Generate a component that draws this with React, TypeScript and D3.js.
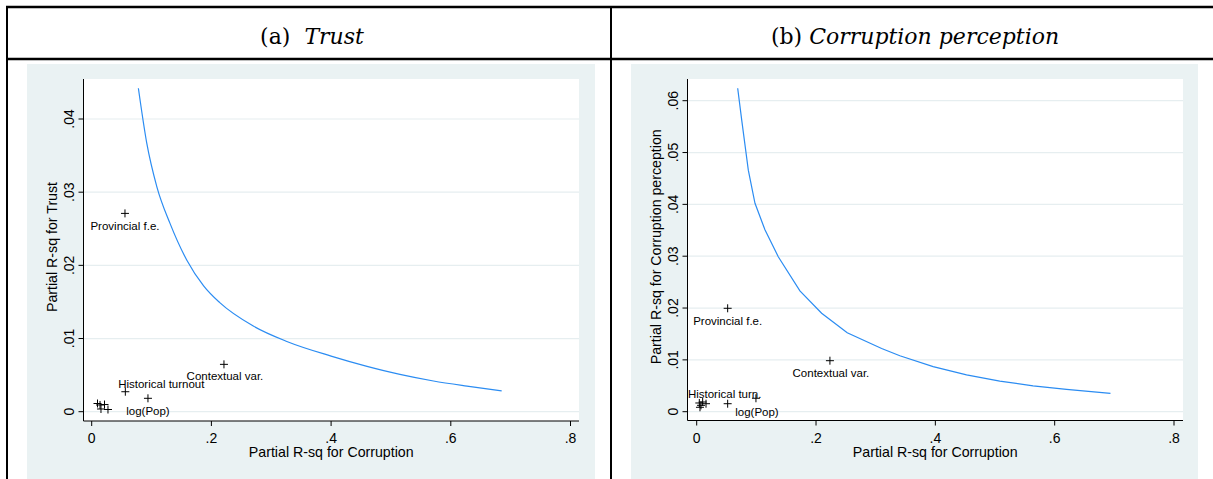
import React from "react";
import * as d3 from "d3";

// ---------- DATA ----------
const xTickValues = [0, 0.2, 0.4, 0.6, 0.8];
const xTickLabels = ["0", ".2", ".4", ".6", ".8"];

const yTickValuesA = [0, 0.01, 0.02, 0.03, 0.04];
const yTickLabelsA = ["0", ".01", ".02", ".03", ".04"];
const yTickValuesB = [0, 0.01, 0.02, 0.03, 0.04, 0.05, 0.06];
const yTickLabelsB = ["0", ".01", ".02", ".03", ".04", ".05", ".06"];

// Bound contour (panel a: Trust)
const curveAx = [0.078, 0.092, 0.109, 0.131, 0.159, 0.187, 0.214, 0.27, 0.326, 0.4, 0.46, 0.515, 0.571, 0.627, 0.685];
const curveAy = [0.0442, 0.0367, 0.0307, 0.0257, 0.0207, 0.0172, 0.0149, 0.0117, 0.0096, 0.0076, 0.0062, 0.0051, 0.0042, 0.0035, 0.00285];

// Bound contour (panel b: Corruption perception)
const curveBx = [0.0687, 0.0754, 0.0865, 0.0977, 0.1144, 0.1367, 0.173, 0.2094, 0.2523, 0.31, 0.3405, 0.3963, 0.4523, 0.508, 0.5638, 0.6198, 0.6935];
const curveBy = [0.0624, 0.0563, 0.0466, 0.0402, 0.0351, 0.0299, 0.0233, 0.019, 0.01524, 0.0122, 0.0108, 0.0087, 0.0071, 0.0059, 0.005, 0.0043, 0.00355];

// Benchmark covariates (panel a)
const pointsAx = [0.0556, 0.221, 0.0562, 0.094, 0.0097, 0.0139, 0.0155, 0.0214, 0.0272];
const pointsAy = [0.0271, 0.00647, 0.00273, 0.00183, 0.00112, 0.00092, 0.00037, 0.00098, 0.0003];
const pointsAlabels = ["Provincial f.e.", "Contextual var.", "Historical turnout", "log(Pop)", "", "", "", "", ""];

// Benchmark covariates (panel b)
const pointsBx = [0.0519, 0.2233, 0.0519, 0.0993, 0.0044, 0.01, 0.0156, 0.0072, 0.0055];
const pointsBy = [0.01995, 0.00984, 0.00154, 0.00259, 0.00168, 0.00187, 0.00154, 0.00123, 0.00085];
const pointsBlabels = ["Provincial f.e.", "Contextual var.", "Historical turn.", "log(Pop)", "", "", "", "", ""];

const titleA = { prefix: "(a)\u00a0 ", italic: "Trust" };
const titleB = { prefix: "(b) ", italic: "Corruption perception" };

// ---------- STYLE / LAYOUT ----------
const BG = "#eaf2f3";
const GRID = "#e6eef0";
const CURVE = "#2b8cf2";
const FONT = "'Liberation Sans', Arial, sans-serif";

// label offsets (px) relative to markers
const labelOffA = [[0, 17], [1, 16], [36, -4], [0, 17]];
const labelOffB = [[0, 17], [1, 16], [-3, -6], [1, 18]];

type PanelProps = {
  bgX: number; bgW: number;
  plotL: number; plotR: number; plotT: number; plotB: number;
  xr: [number, number];
  yr: [number, number];
  yMax: number;
  yTicks: number[]; yLabels: string[];
  cx: number[]; cy: number[];
  smooth: boolean;
  px: number[]; py: number[]; plabels: string[]; offs: number[][];
  yTitle: string;
};

function Panel(p: PanelProps) {
  const x = d3.scaleLinear().domain([0, 0.8]).range(p.xr);
  const y = d3.scaleLinear().domain([0, p.yMax]).range(p.yr);
  const line = d3
    .line<number>()
    .x((_, i) => x(p.cx[i]))
    .y((_, i) => y(p.cy[i]))
    .curve(p.smooth ? d3.curveMonotoneX : d3.curveLinear);
  const pathD = line(p.cx) || "";
  const midX = (p.plotL + p.plotR) / 2;
  const midY = (p.plotT + p.plotB) / 2;
  const ms = 4;
  return (
    <g>
      <rect x={p.bgX} y={64} width={p.bgW} height={420} fill={BG} />
      <rect x={p.plotL} y={p.plotT} width={p.plotR - p.plotL} height={p.plotB - p.plotT} fill="#fff" />
      {p.yTicks.map((t, i) => (
        <line key={"g" + i} x1={p.plotL} x2={p.plotR} y1={y(t)} y2={y(t)} stroke={GRID} strokeWidth={1.2} />
      ))}
      <line x1={p.plotL} x2={p.plotL} y1={p.plotT} y2={p.plotB} stroke="#000" strokeWidth={1} />
      <line x1={p.plotL} x2={p.plotR} y1={p.plotB} y2={p.plotB} stroke="#000" strokeWidth={1} />
      {xTickValues.map((t, i) => (
        <g key={"xt" + i}>
          <line x1={x(t)} x2={x(t)} y1={p.plotB} y2={p.plotB + 5} stroke="#000" strokeWidth={1} />
          <text x={x(t)} y={p.plotB + 22} textAnchor="middle" fontFamily={FONT} fontSize={14} fill="#000">
            {xTickLabels[i]}
          </text>
        </g>
      ))}
      {p.yTicks.map((t, i) => (
        <g key={"yt" + i}>
          <line x1={p.plotL - 5} x2={p.plotL} y1={y(t)} y2={y(t)} stroke="#000" strokeWidth={1} />
          <text
            transform={`translate(${p.plotL - 10},${y(t)}) rotate(-90)`}
            textAnchor="middle"
            fontFamily={FONT}
            fontSize={14}
            fill="#000"
          >
            {p.yLabels[i]}
          </text>
        </g>
      ))}
      <text x={midX} y={p.plotB + 36} textAnchor="middle" fontFamily={FONT} fontSize={14.2} fill="#000">
        Partial R-sq for Corruption
      </text>
      <text
        transform={`translate(${p.plotL - 27},${midY - 3}) rotate(-90)`}
        textAnchor="middle"
        fontFamily={FONT}
        fontSize={14.2}
        fill="#000"
      >
        {p.yTitle}
      </text>
      <path d={pathD} fill="none" stroke={CURVE} strokeWidth={1.2} />
      {p.px.map((v, i) => {
        const mx = x(v);
        const my = y(p.py[i]);
        return (
          <g key={"p" + i}>
            <line x1={mx - ms} x2={mx + ms} y1={my} y2={my} stroke="#000" strokeWidth={1} />
            <line x1={mx} x2={mx} y1={my - ms} y2={my + ms} stroke="#000" strokeWidth={1} />
            {p.plabels[i] ? (
              <text
                x={mx + p.offs[i][0]}
                y={my + p.offs[i][1]}
                textAnchor="middle"
                fontFamily={FONT}
                fontSize={11.5}
                fill="#000"
              >
                {p.plabels[i]}
              </text>
            ) : null}
          </g>
        );
      })}
    </g>
  );
}

export default function App() {
  return (
    <svg
      width={1213}
      height={479}
      style={{ position: "absolute", left: 0, top: 0, background: "#fff" }}
    >
      <rect x={0} y={0} width={1213} height={479} fill="#fff" />
      <Panel
        bgX={27} bgW={568}
        plotL={83.5} plotR={579} plotT={79} plotB={421}
        xr={[91.7, 570.5]} yr={[411.7, 119]} yMax={0.04}
        yTicks={yTickValuesA} yLabels={yTickLabelsA}
        cx={curveAx} cy={curveAy} smooth={true}
        px={pointsAx} py={pointsAy} plabels={pointsAlabels} offs={labelOffA}
        yTitle="Partial R-sq for Trust"
      />
      <Panel
        bgX={631} bgW={567}
        plotL={687.5} plotR={1183} plotT={79} plotB={420.5}
        xr={[696.7, 1174]} yr={[411.7, 100.7]} yMax={0.06}
        yTicks={yTickValuesB} yLabels={yTickLabelsB}
        cx={curveBx} cy={curveBy} smooth={false}
        px={pointsBx} py={pointsBy} plabels={pointsBlabels} offs={labelOffB}
        yTitle="Partial R-sq for Corruption perception"
      />
      <line x1={6} x2={1213} y1={7} y2={7} stroke="#000" strokeWidth={2.5} />
      <line x1={6} x2={1213} y1={59} y2={59} stroke="#000" strokeWidth={2.5} />
      <line x1={7} x2={7} y1={6} y2={479} stroke="#000" strokeWidth={2} />
      <line x1={611} x2={611} y1={6} y2={479} stroke="#000" strokeWidth={2} />
      <text x={312} y={44} textAnchor="middle" fontFamily="'DejaVu Serif', serif" fontSize={22} fill="#000">
        {titleA.prefix}
        <tspan fontStyle="italic">{titleA.italic}</tspan>
      </text>
      <text x={915} y={44} textAnchor="middle" fontFamily="'DejaVu Serif', serif" fontSize={22} fill="#000">
        {titleB.prefix}
        <tspan fontStyle="italic">{titleB.italic}</tspan>
      </text>
    </svg>
  );
}
